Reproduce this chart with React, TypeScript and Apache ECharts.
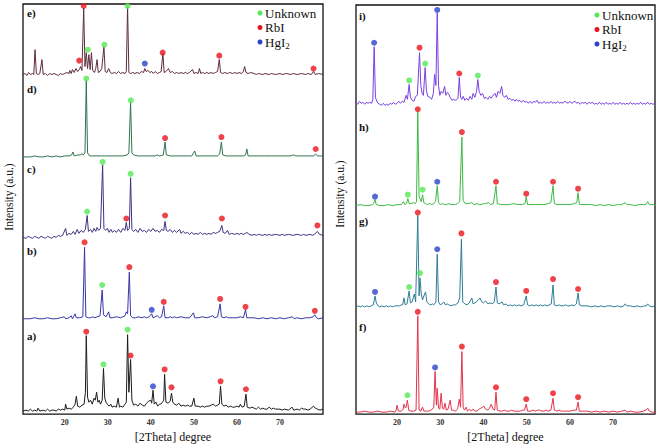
import React, { useEffect, useRef } from "react";
import * as echarts from "echarts";

// ---------- data: [2theta, intensity above own baseline] ----------
const traceA = [[10.3,1],[11,2],[11.5,1],[12,3],[12.5,1],[13,2],[13.5,1],[13.8,4],[14.2,1],[15,2],[15.5,1],[16,3],[16.5,1],[17,2],[17.5,2],[18,1],[18.5,3],[19,2],[19.5,3],[20,2],[20.2,8],[20.5,3],[21,4],[21.5,3],[22,5],[22.4,8],[22.7,16],[23,6],[23.5,5],[24,7],[24.5,8],[24.8,20],[25,77],[25.3,15],[25.6,10],[26,12],[26.4,8],[26.8,14],[27.1,12],[27.4,20],[27.7,10],[28,12],[28.3,8],[28.7,12],[29,44],[29.3,14],[29.6,10],[29.9,8],[30.3,6],[30.7,8],[31,5],[31.5,6],[32,5],[32.4,14],[32.7,5],[33,6],[33.5,5],[34,8],[34.3,10],[34.6,78],[34.9,20],[35.3,53],[35.6,12],[36,7],[36.5,8],[37,6],[37.5,9],[38,7],[38.5,6],[39,9],[39.5,11],[40,12],[40.2,9],[40.5,22],[40.8,8],[41.2,10],[41.6,6],[42,8],[42.3,8],[42.7,10],[43,12],[43.2,38],[43.5,10],[44,9],[44.5,11],[44.8,19],[45.1,10],[45.5,8],[46,7],[46.5,9],[47,6],[47.5,7],[48,6],[48.5,7],[49,6],[49.5,6],[50,14],[50.3,6],[51,6],[51.5,5],[52,6],[52.5,5],[53,6],[53.5,6],[54,7],[54.5,8],[55,6],[55.5,7],[55.9,8],[56.2,26],[56.5,8],[57,6],[57.5,7],[58,5],[58.5,6],[59,5],[59.5,5],[60,6],[60.5,5],[60.8,8],[61.2,5],[61.7,6],[62.1,18],[62.4,5],[63,4],[63.5,5],[64,4],[64.5,3],[65,5],[65.5,3],[66,4],[66.5,3],[67,3],[67.5,5],[68,3],[68.5,4],[69,3],[70,3],[70.5,2],[71,3],[72,2],[72.8,5],[73.2,2],[74,3],[74.5,2],[75,4],[75.5,3],[76,3],[76.5,2],[77,3],[77.8,6],[78.2,4],[78.7,3],[79.3,2],[80,3]];

const traceB = [[10.3,1],[12,1],[13,2],[14,1],[15,1],[16,2],[17,1],[18,1],[19,2],[19.9,3],[20.2,1],[21,2],[21.5,4],[21.8,1],[22.4,6],[22.7,2],[23.5,2],[24.2,3],[24.6,73],[24.9,3],[25.5,2],[26,2],[26.5,3],[27,2],[27.5,3],[28.2,4],[28.7,30],[29,5],[29.6,3],[30.2,8],[30.5,2],[31,2],[32,3],[33,2],[33.5,3],[34,4],[34.3,8],[34.6,6],[35,48],[35.3,4],[35.8,2],[36.5,2],[37,3],[38,2],[38.5,3],[39,2],[39.6,3],[40.2,6],[40.5,2],[41,3],[41.5,4],[42,2],[42.5,3],[43,14],[43.3,2],[44,2],[44.5,3],[45,2],[45.5,3],[46,2],[47,3],[48,2],[49,2],[49.9,7],[50.2,2],[51,2],[52,3],[53,2],[53.8,3],[54.4,4],[54.8,2],[55.5,3],[56.1,16],[56.4,3],[57,2],[57.5,3],[58,2],[59,2],[60,2],[60.8,3],[61.5,2],[62,10],[62.3,2],[63,2],[64,2],[65,1],[66,2],[67,1],[68,2],[69,1],[70,2],[71,1],[72,2],[72.9,3],[73.3,1],[74,2],[75,1],[76,2],[77,2],[77.7,3],[78.1,5],[78.5,2],[79,1],[80,2]];

const traceC = [[10.3,1],[11,0],[11.5,2],[12,1],[12.5,0],[13,2],[13.5,1],[14,0],[14.5,2],[15,1],[15.5,0],[16,2],[16.5,1],[17,0],[17.5,2],[18,1],[18.5,3],[19,2],[19.5,3],[20.2,10],[20.5,3],[21,5],[21.5,4],[22,7],[22.4,4],[22.9,9],[23.3,5],[23.8,8],[24.3,6],[24.8,9],[25.2,23],[25.5,7],[26,9],[26.4,6],[26.8,10],[27.2,7],[27.5,11],[27.9,8],[28.3,10],[28.8,74],[29.1,10],[29.5,8],[29.9,10],[30.3,6],[30.7,9],[31.1,6],[31.5,8],[32,6],[32.5,9],[33,6],[33.5,10],[34,8],[34.3,16],[34.6,8],[35,10],[35.3,61],[35.6,9],[36,7],[36.5,9],[37,6],[37.5,10],[38,7],[38.5,8],[39,6],[39.5,9],[40,7],[40.5,10],[41,7],[41.5,8],[42,6],[42.5,9],[43,8],[43.3,17],[43.6,8],[44,7],[44.5,9],[45,6],[45.5,8],[46,6],[46.7,9],[47,5],[47.5,7],[48,5],[48.5,6],[49,4],[49.5,6],[50,4],[50.5,5],[51,4],[51.5,6],[52,4],[52.5,5],[53,4],[53.5,5],[54,4],[54.5,6],[55,5],[55.5,6],[56,7],[56.5,13],[56.8,6],[57.3,5],[57.8,8],[58.2,4],[58.8,5],[59.5,4],[60,5],[60.5,4],[61,5],[61.5,4],[62,5],[62.4,6],[62.8,4],[63.5,3],[64,4],[64.5,3],[65,4],[66,3],[66.5,4],[67,3],[67.5,4],[68,3],[69,4],[70,3],[70.5,4],[71,3],[72,4],[73,3],[74,4],[75,3],[75.5,4],[76,3],[77,4],[77.5,3],[78,4],[78.7,7],[79.2,4],[80,3]];

const traceD = [[10.3,1],[12,1],[13,2],[14,1],[15,1],[16,2],[17,1],[18,2],[19,1],[20,2],[21,2],[21.6,3],[21.9,6],[22.2,2],[23,3],[23.6,3],[24,4],[24.3,3],[24.7,5],[25,78],[25.3,5],[25.8,2],[26.5,2],[27.5,2],[28.5,2],[29.5,2],[30.5,2],[31.5,2],[32.5,2],[33.5,2],[34.5,3],[34.9,5],[35.3,56],[35.6,5],[36,3],[37,2],[38,2],[39,2],[40,2],[41,2],[41.5,3],[42,2],[42.9,3],[43.3,16],[43.6,3],[44.5,2],[45.5,2],[46.5,2],[47.5,2],[48.5,2],[49.5,2],[50.2,7],[50.5,2],[51.5,2],[52.5,2],[53.5,2],[54.5,2],[55.5,2],[56,4],[56.4,16],[56.7,3],[57.5,2],[58.5,2],[59.5,2],[60.5,2],[61.5,2],[62,3],[62.3,9],[62.6,2],[63.5,2],[65,2],[66.5,2],[68,2],[69.5,2],[71,2],[72.5,2],[73.2,3],[73.7,2],[75,2],[76.5,2],[77.8,2],[78.3,4],[78.7,2],[80,2]];

const traceE = [[10.3,2],[10.8,3],[11.2,1],[11.6,4],[12,2],[12.5,3],[12.8,2],[13.1,27],[13.4,3],[13.8,2],[14.2,3],[14.7,17],[15,2],[15.5,3],[16,1],[16.5,3],[17,2],[17.5,3],[18,2],[18.5,1],[19,3],[19.5,2],[20,3],[20.5,4],[21,3],[21.2,6],[21.5,3],[21.8,7],[22.2,4],[22.6,8],[23,5],[23.4,7],[23.7,10],[24,6],[24.4,69],[24.7,10],[25,24],[25.3,8],[25.6,22],[25.9,7],[26.2,24],[26.5,6],[26.9,4],[27.2,8],[27.5,17],[27.8,4],[28.2,5],[28.6,8],[29.1,30],[29.4,5],[29.8,4],[30.2,8],[30.6,4],[31,3],[31.5,4],[32,3],[32.5,5],[33,3],[33.5,4],[34,3],[34.3,5],[34.6,70],[34.9,4],[35.3,3],[35.8,4],[36.3,3],[36.8,4],[37.3,3],[37.8,5],[38.3,4],[38.6,8],[38.9,5],[39.3,6],[39.8,4],[40.2,5],[40.6,3],[41,5],[41.5,3],[42,4],[42.4,5],[42.8,23],[43.1,4],[43.5,5],[44.1,8],[44.5,4],[45,5],[45.5,3],[46,4],[46.5,3],[47,4],[47.5,3],[48,4],[48.5,3],[49,4],[49.7,7],[50,3],[50.5,4],[51,3],[51.3,8],[51.6,3],[52,4],[52.5,3],[53,4],[53.5,3],[54,4],[54.5,3],[55,4],[55.5,5],[55.9,17],[56.2,4],[56.7,3],[57.2,4],[57.8,3],[58.3,4],[59,3],[59.5,4],[60,3],[60.5,4],[61,3],[61.5,5],[61.8,10],[62.1,4],[62.6,3],[63.2,4],[64,3],[64.5,2],[65,3],[66,2],[66.5,3],[67.5,2],[68,3],[69,2],[70,3],[70.5,2],[71.5,3],[72.5,2],[73,3],[74,2],[75,3],[76,2],[76.5,3],[77.3,2],[77.8,5],[78.2,2],[79,3],[80,2]];

const traceF = [[10.5,1],[11.5,1],[12.5,2],[13.5,1],[14.5,1],[15.5,2],[16.5,1],[17.5,1],[18.5,2],[19.5,1],[19.8,3],[20,8],[20.3,2],[21,2],[21.4,4],[21.6,9],[21.9,5],[22.1,6],[22.4,13],[22.7,3],[23.2,2],[23.8,2],[24.4,3],[24.8,98],[25.1,3],[25.5,2],[25.9,6],[26.2,2],[26.8,2],[27.3,2],[27.8,3],[28.2,4],[28.5,6],[28.8,42],[29.1,8],[29.3,25],[29.6,5],[29.9,4],[30.2,20],[30.5,5],[30.8,4],[31.1,10],[31.4,3],[31.8,4],[32.3,13],[32.6,3],[33,3],[33.5,2],[34,4],[34.4,14],[34.7,6],[35,62],[35.3,6],[35.6,3],[36,6],[36.3,2],[36.8,4],[37.2,2],[37.6,4],[38,2],[38.5,2],[39,4],[39.4,5],[39.8,6],[40.1,7],[40.5,4],[41,3],[41.4,5],[41.8,9],[42.2,4],[42.6,3],[42.9,21],[43.2,3],[43.8,2],[44.3,2],[44.8,3],[45.3,2],[46,2],[46.5,3],[47,2],[47.5,2],[48,2],[48.5,2],[49,3],[49.5,3],[49.9,9],[50.2,2],[51,2],[51.5,3],[52,2],[52.5,3],[53,3],[53.5,2],[54,2],[54.5,3],[55,2],[55.6,3],[56.1,15],[56.4,3],[57,2],[57.5,3],[58,2],[58.5,2],[59,2],[60,2],[60.8,3],[61.5,3],[61.9,11],[62.2,2],[63,2],[64,2],[65,1],[66,2],[67,1],[68,2],[69,1],[70,2],[71,1],[72,2],[72.8,3],[73.2,1],[74,2],[75,1],[76,1],[77,2],[77.6,3],[78,5],[78.4,2],[79,1],[79.7,1]];

const traceG = [[10.5,1],[11,2],[11.5,1],[12,2],[12.5,1],[13,2],[13.5,1],[14,2],[14.5,3],[14.9,12],[15.2,5],[15.6,2],[16,1],[16.5,2],[17,1],[17.5,2],[18,1],[18.5,2],[19,1],[19.5,2],[20,2],[20.5,2],[21,3],[21.3,3],[21.6,10],[21.9,3],[22.3,4],[22.8,17],[23.1,5],[23.5,6],[24,14],[24.3,6],[24.8,93],[25.1,12],[25.3,30],[25.6,14],[25.9,8],[26.2,12],[26.6,16],[26.9,6],[27.3,4],[27.8,3],[28.2,4],[28.5,3],[29,6],[29.3,54],[29.6,6],[30,3],[30.4,4],[30.8,6],[31.2,3],[31.6,4],[32,3],[32.5,2],[33,3],[33.5,3],[34.1,5],[34.5,10],[34.9,69],[35.2,6],[35.7,4],[36.2,3],[36.7,5],[37.3,10],[37.6,4],[38,5],[38.4,6],[38.8,8],[39.2,10],[39.6,6],[40,5],[40.5,7],[41,4],[41.5,5],[42,4],[42.5,6],[42.9,21],[43.2,5],[43.6,4],[44.3,6],[44.7,3],[45.2,4],[45.7,2],[46.2,3],[46.7,2],[47.2,3],[47.7,2],[48.2,3],[48.7,2],[49.3,3],[49.9,12],[50.2,3],[50.7,2],[51.2,3],[51.7,2],[52.2,3],[52.7,2],[53.2,3],[53.7,2],[54.2,3],[54.7,2],[55.2,3],[55.7,4],[56.1,23],[56.4,3],[57,2],[57.5,3],[58,2],[58.5,2],[59,3],[59.5,2],[60,2],[60.5,3],[61,2],[61.5,4],[61.9,15],[62.2,3],[62.8,2],[63.5,2],[64.2,2],[65,1],[65.8,2],[66.5,1],[67.2,2],[68,1],[68.7,2],[69.5,2],[70.2,1],[71,2],[71.8,1],[72.5,2],[72.8,4],[73.2,2],[74,2],[74.8,1],[75.6,2],[76.4,1],[77.2,2],[77.7,2],[78,4],[78.4,2],[79,1],[79.7,2]];

const traceH = [[10.5,1],[11.5,2],[12.5,1],[13.5,1],[14.3,2],[14.6,3],[14.9,7],[15.2,2],[16,1],[17,1],[18,2],[19,1],[20,2],[21,2],[21.5,5],[21.8,2],[22.2,3],[22.5,8],[22.8,3],[23.3,3],[23.8,4],[24.2,3],[24.5,5],[24.8,95],[25.1,10],[25.3,8],[25.6,5],[25.9,12],[26.2,4],[26.6,3],[27,2],[27.5,3],[28,2],[28.5,3],[28.9,5],[29.3,21],[29.6,4],[30,2],[30.5,3],[31,2],[31.5,2],[32,3],[32.5,2],[33,2],[33.5,2],[34,3],[34.5,5],[35,70],[35.3,6],[35.8,3],[36.5,3],[37.3,4],[37.8,2],[38.5,3],[39,2],[39.5,2],[40,3],[40.5,3],[41.2,4],[41.6,2],[42.3,3],[42.9,21],[43.2,3],[44,2],[45,2],[46,2],[47,3],[48,2],[49,2],[49.6,3],[49.9,10],[50.2,2],[51,2],[52,2],[53,2],[54,2],[55,3],[55.6,4],[56.1,21],[56.4,3],[57,2],[58,2],[59,2],[60,2],[61,3],[61.6,4],[61.9,14],[62.2,2],[63,2],[64,2],[65,2],[66,1],[67,2],[68,1],[69,2],[70,1],[71,2],[72,2],[72.8,4],[73.2,2],[74,2],[75,1],[76,2],[77,2],[77.6,2],[78,5],[78.4,2],[79.7,2]];

const traceI = [[10.5,3],[10.9,1],[11.3,4],[11.7,2],[12.1,3],[12.5,1],[12.9,3],[13.3,2],[13.7,3],[14.1,2],[14.4,6],[14.7,59],[15,8],[15.3,4],[15.6,2],[16,1],[16.4,0],[16.8,2],[17.2,0],[17.6,1],[18,0],[18.4,2],[18.8,1],[19.2,3],[19.6,1],[20,2],[20.4,4],[20.8,2],[21.2,4],[21.6,3],[22.1,10],[22.4,6],[22.8,21],[23.1,8],[23.5,5],[23.9,4],[24.3,9],[24.7,10],[25.2,53],[25.5,20],[25.8,12],[26.1,10],[26.5,38],[26.8,15],[27.1,9],[27.6,8],[28,6],[28.4,12],[28.7,31],[29,20],[29.3,93],[29.6,20],[29.9,10],[30.2,14],[30.6,12],[31,19],[31.3,10],[31.6,13],[31.9,12],[32.3,8],[32.7,5],[33.1,6],[33.5,5],[33.9,6],[34.1,7],[34.4,28],[34.7,8],[35,6],[35.3,9],[35.7,5],[36.1,7],[36.5,5],[36.9,9],[37.3,6],[37.6,12],[38,8],[38.4,14],[38.7,26],[39,14],[39.4,10],[39.8,12],[40.2,7],[40.6,8],[41,6],[41.4,9],[41.8,7],[42.2,10],[42.7,12],[43,8],[43.4,14],[43.8,12],[44.2,19],[44.5,10],[44.9,8],[45.3,10],[45.7,6],[46.1,7],[46.5,5],[46.9,6],[47.3,4],[47.6,6],[48,4],[48.4,5],[48.8,3],[49.2,5],[49.6,3],[50,4],[50.4,2],[50.8,4],[51.2,2],[51.6,4],[52,3],[52.4,5],[52.8,2],[53.2,3],[53.6,2],[54,4],[54.4,2],[54.8,3],[55.2,2],[55.6,4],[56,2],[56.4,3],[56.8,2],[57.2,4],[57.6,2],[58,3],[58.4,2],[58.8,4],[59.2,3],[59.6,2],[60,4],[60.4,2],[60.8,3],[61.2,4],[61.6,2],[62,3],[62.4,1],[62.8,3],[63.2,2],[63.6,3],[64,1],[64.4,3],[64.8,2],[65.2,3],[65.6,1],[66,2],[66.4,1],[66.8,3],[67.2,1],[67.6,2],[68,1],[68.4,3],[68.8,1],[69.2,2],[69.6,1],[70,3],[70.4,1],[70.8,2],[71.2,1],[71.6,3],[72,1],[72.4,2],[72.8,1],[73.2,2],[73.6,1],[74,3],[74.4,1],[74.8,2],[75.2,1],[75.6,2],[76,1],[76.4,3],[76.8,1],[77.2,2],[77.6,1],[78,3],[78.4,1],[78.8,2],[79.2,1],[79.7,2]];

// phase markers: [2theta, stacked intensity in panel units]
const leftUnknown = [[25.35,367],[29.2,372],[34.6,411],[25.0,338],[35.35,316],[28.8,254],[35.3,242],[25.2,204],[28.7,130],[29.0,50],[34.6,85]];
const leftRbI = [[24.4,411],[23.35,356],[42.75,364],[55.9,361],[77.8,348],[43.3,278],[56.4,279],[78.3,267],[34.3,197],[43.3,200],[56.5,197],[78.7,190],[24.6,173],[35.0,148],[43.0,113],[56.1,116],[62.0,108],[78.1,104],[25.0,83],[35.3,59],[43.2,45],[44.8,27],[56.2,33],[62.1,25]];
const leftHgI2 = [[38.6,353],[40.2,105],[40.5,28]];
const rightUnknown = [[22.8,336],[26.5,353],[38.7,341],[22.5,221],[25.9,226],[22.8,128],[25.3,142],[22.4,19]];
const rightRbI = [[25.2,369],[34.4,343],[24.8,307],[35.0,284],[42.9,234],[49.9,222],[56.1,234],[61.9,227],[24.8,203],[34.9,182],[42.9,133],[49.9,124],[56.1,136],[61.9,126],[24.8,103],[35.0,68],[42.9,27],[49.9,15],[56.1,21],[61.9,17]];
const rightHgI2 = [[14.7,374],[29.3,407],[14.9,219],[29.3,234],[29.3,166],[14.9,123],[28.8,47]];

const tickValues = [20, 30, 40, 50, 60, 70];
const legendNames = ["Unknown", "RbI", "HgI2"];

// ---------- styling / layout ----------
const SERIF = "Liberation Serif, Times New Roman, serif";
const GREEN = "#55e855";
const RED = "#e8141c";
const BLUE = "#2a42c8";

const traces = [
  { name: "a)", data: traceA, panel: 0, offset: 2, color: "#1c1c1c", labelY: 336 },
  { name: "b)", data: traceB, panel: 0, offset: 95, color: "#3a36a8", labelY: 251 },
  { name: "c)", data: traceC, panel: 0, offset: 177, color: "#3f3280", labelY: 169 },
  { name: "d)", data: traceD, panel: 0, offset: 258, color: "#2f7450", labelY: 89 },
  { name: "e)", data: traceE, panel: 0, offset: 340, color: "#5e2c3e", labelY: 13 },
  { name: "f)", data: traceF, panel: 1, offset: 1, color: "#e2334b", labelY: 327 },
  { name: "g)", data: traceG, panel: 1, offset: 107, color: "#2f7d96", labelY: 221 },
  { name: "h)", data: traceH, panel: 1, offset: 209, color: "#3db845", labelY: 127 },
  { name: "i)", data: traceI, panel: 1, offset: 311, color: "#7a40e2", labelY: 16 },
];

const panels = [
  { left: 23, top: 4, width: 300, height: 413, min: 10.3, max: 80, labelX: 27, legendX: 260, legendY: 13, yNameX: 9, yNameY: 197 },
  { left: 356, top: 5, width: 299, height: 412, min: 10.5, max: 79.7, labelX: 359, legendX: 597, legendY: 15, yNameX: 340, yNameY: 194 },
];

export default function App() {
  const ref = useRef<HTMLDivElement>(null);
  useEffect(() => {
    if (!ref.current) return;
    const chart = echarts.init(ref.current, null, { renderer: "svg" });

    const lineSeries = traces.map((t) => ({
      type: "line",
      name: t.name,
      xAxisIndex: t.panel,
      yAxisIndex: t.panel,
      data: t.data.map(([x, y]) => [x, y + t.offset]),
      showSymbol: false,
      symbol: "none",
      silent: true,
      lineStyle: { width: 1, color: t.color },
      z: 2,
    }));

    const markerSets = [
      { panel: 0, name: legendNames[0], data: leftUnknown, color: GREEN },
      { panel: 0, name: legendNames[1], data: leftRbI, color: RED },
      { panel: 0, name: legendNames[2], data: leftHgI2, color: BLUE },
      { panel: 1, name: legendNames[0], data: rightUnknown, color: GREEN },
      { panel: 1, name: legendNames[1], data: rightRbI, color: RED },
      { panel: 1, name: legendNames[2], data: rightHgI2, color: BLUE },
    ];
    const scatterSeries = markerSets.map((m) => ({
      type: "scatter",
      name: m.name,
      xAxisIndex: m.panel,
      yAxisIndex: m.panel,
      data: m.data,
      symbol: "circle",
      symbolSize: 6,
      silent: true,
      itemStyle: { color: m.color },
      z: 3,
    }));

    const graphics: any[] = [];
    panels.forEach((p) => {
      graphics.push({
        type: "text",
        x: p.yNameX,
        y: p.yNameY,
        rotation: Math.PI / 2,
        style: { text: "Intensity (a.u.)", fontFamily: SERIF, fontSize: 11.5, fill: "#111", align: "center", verticalAlign: "middle" },
      });
      const cols = [GREEN, RED, BLUE];
      legendNames.forEach((n, i) => {
        const cy = p.legendY + i * 14.5;
        graphics.push({ type: "circle", shape: { cx: p.legendX, cy, r: 2.5 }, style: { fill: cols[i] } });
        graphics.push({
          type: "text",
          x: p.legendX + 5,
          y: cy,
          style: {
            text: n === "HgI2" ? "HgI{s|2}" : n,
            fontFamily: SERIF,
            fontSize: 13,
            lineHeight: 16,
            fill: "#111",
            align: "left",
            verticalAlign: "middle",
            rich: { s: { fontFamily: SERIF, fontSize: 9, lineHeight: 9, verticalAlign: "bottom", fill: "#111" } },
          },
        });
      });
    });
    traces.forEach((t) => {
      graphics.push({
        type: "text",
        x: panels[t.panel].labelX,
        y: t.labelY,
        style: { text: t.name, fontFamily: SERIF, fontSize: 11, fontWeight: "bold", fill: "#111", align: "left", verticalAlign: "middle" },
      });
    });

    chart.setOption({
      animation: false,
      backgroundColor: "#fff",
      grid: panels.map((p) => ({
        left: p.left, top: p.top, width: p.width, height: p.height,
        show: true, borderColor: "#111", borderWidth: 1.3, backgroundColor: "transparent",
      })),
      xAxis: panels.map((p, i) => ({
        type: "value",
        gridIndex: i,
        min: p.min,
        max: p.max,
        axisLine: { show: false },
        axisTick: { show: false },
        splitLine: { show: false },
        axisLabel: {
          customValues: tickValues,
          fontFamily: SERIF,
          fontSize: 8,
          fontWeight: "bold",
          color: "#333",
          margin: 4,
        },
        name: "[2Theta] degree",
        nameLocation: "middle",
        nameGap: 16,
        nameTextStyle: { fontFamily: SERIF, fontSize: 12, color: "#111" },
      })),
      yAxis: panels.map((p, i) => ({
        type: "value",
        gridIndex: i,
        min: 0,
        max: p.height,
        show: false,
      })),
      series: [...lineSeries, ...scatterSeries],
      graphic: graphics,
    });
    return () => chart.dispose();
  }, []);
  return <div ref={ref} style={{ position: "fixed", left: 0, top: 0, width: 661, height: 448 }} />;
}
